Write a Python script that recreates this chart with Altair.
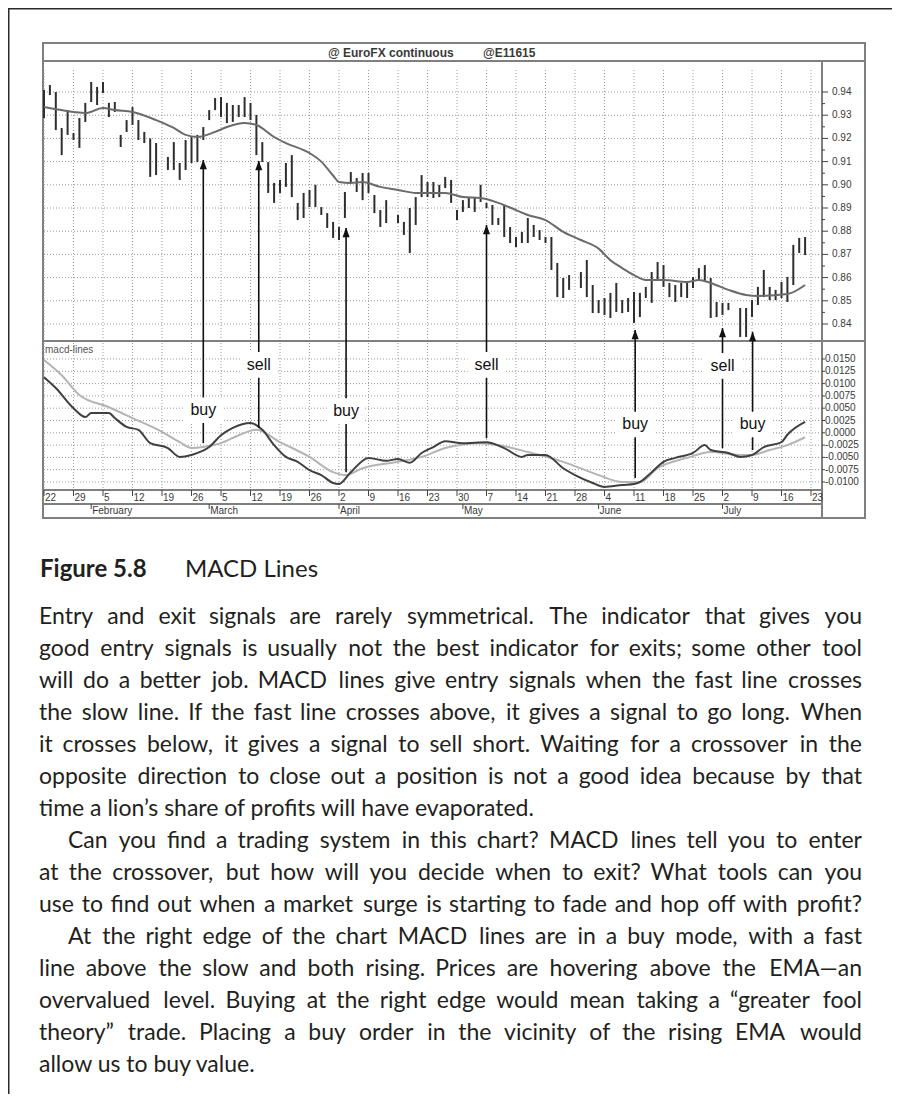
import altair as alt
import numpy as np
import pandas as pd

# ---------------- values ----------------
START = "2001-01-22"
HOLIDAYS = ["2001-02-19", "2001-04-13", "2001-05-28", "2001-07-04"]
bar_dates = [d.strftime("%Y-%m-%d") for d in pd.bdate_range("2001-01-22", "2001-07-20")
             if d.strftime("%Y-%m-%d") not in HOLIDAYS]

bar_high = [
    0.9409, 0.9430, 0.9400, 0.9245, 0.9322, 0.9223, 0.9288, 0.9353, 0.9443, 0.9422,
    0.9443, 0.9353, 0.9357, 0.9215, 0.9279, 0.9335, 0.9279, 0.9228, 0.9200, 0.9180,
    0.9120, 0.9184, 0.9094, 0.9193, 0.9206, 0.9215, 0.9249, 0.9322, 0.9374, 0.9378,
    0.9353, 0.9344, 0.9344, 0.9378, 0.9353, 0.9301, 0.9184, 0.9098, 0.9008, 0.9021,
    0.9094, 0.9128, 0.8922, 0.8965, 0.8978, 0.9000, 0.8904, 0.8878, 0.8840, 0.8818,
    0.8969, 0.9055, 0.9029, 0.9051, 0.9051, 0.8956, 0.8891, 0.8934,
    0.8870, 0.8840, 0.8900, 0.8947, 0.9042, 0.9012, 0.9012, 0.9000, 0.9034, 0.9021,
    0.8891, 0.8934, 0.8947, 0.8947, 0.9000, 0.8922, 0.8913, 0.8857, 0.8913, 0.8818,
    0.8775, 0.8797, 0.8857, 0.8827, 0.8805, 0.8775, 0.8775, 0.8663, 0.8598, 0.8611,
    0.8624, 0.8676, 0.8568, 0.8503, 0.8512, 0.8534, 0.8577, 0.8503, 0.8512, 0.8538,
    0.8534, 0.8560, 0.8624, 0.8667, 0.8654, 0.8577, 0.8568, 0.8577, 0.8581, 0.8603,
    0.8641, 0.8654, 0.8598, 0.8495, 0.8491, 0.8491,
    0.8469, 0.8469, 0.8503, 0.8560, 0.8633, 0.8560, 0.8547, 0.8581, 0.8603, 0.8741,
    0.8771, 0.8775,
]
bar_low = [
    0.9288, 0.9387, 0.9236, 0.9128, 0.9215, 0.9193, 0.9159, 0.9271, 0.9357, 0.9344,
    0.9396, 0.9292, 0.9314, 0.9163, 0.9228, 0.9258, 0.9193, 0.9180, 0.9034, 0.9042,
    0.9064, 0.9064, 0.9021, 0.9064, 0.9094, 0.9098, 0.9193, 0.9279, 0.9322, 0.9292,
    0.9266, 0.9271, 0.9292, 0.9292, 0.9279, 0.9128, 0.9098, 0.8965, 0.8922, 0.8965,
    0.8991, 0.8947, 0.8848, 0.8857, 0.8904, 0.8904, 0.8870, 0.8814, 0.8771, 0.8762,
    0.8857, 0.9008, 0.8969, 0.8934, 0.8965, 0.8878, 0.8818, 0.8835,
    0.8835, 0.8784, 0.8706, 0.8827, 0.8947, 0.8947, 0.8943, 0.8947, 0.8986, 0.8922,
    0.8848, 0.8883, 0.8900, 0.8883, 0.8926, 0.8900, 0.8827, 0.8827, 0.8775, 0.8749,
    0.8732, 0.8749, 0.8749, 0.8775, 0.8762, 0.8749, 0.8633, 0.8516, 0.8512, 0.8547,
    0.8555, 0.8516, 0.8447, 0.8447, 0.8439, 0.8426, 0.8452, 0.8447, 0.8452, 0.8404,
    0.8430, 0.8512, 0.8491, 0.8590, 0.8560, 0.8516, 0.8495, 0.8516, 0.8512, 0.8555,
    0.8590, 0.8581, 0.8426, 0.8430, 0.8439, 0.8460,
    0.8344, 0.8344, 0.8430, 0.8482, 0.8516, 0.8503, 0.8503, 0.8512, 0.8495, 0.8568,
    0.8706, 0.8697,
]

# EMA line (trading-day offset from Jan 22, value)
ema_day = [0, 5, 7, 10, 12, 15, 19, 22, 24, 26, 29, 31, 34, 36, 39, 41, 45, 47, 49, 50,
           52, 54, 57, 60, 63, 65, 68, 71, 74, 77, 80, 82, 85, 88, 91, 94, 96, 98, 100, 102,
           105, 109, 111, 113, 116, 119, 121, 126, 129]
ema_val = [0.9335, 0.9314, 0.9309, 0.9331, 0.9322, 0.9314, 0.9279, 0.9245, 0.9215, 0.9206,
           0.9228, 0.9249, 0.9266, 0.9258, 0.9206, 0.9180, 0.9137, 0.9100, 0.9040, 0.9012,
           0.9008, 0.9012, 0.8991, 0.8978, 0.8965, 0.8965, 0.8965, 0.8947, 0.8943, 0.8922,
           0.8891, 0.8870, 0.8848, 0.8797, 0.8762, 0.8725, 0.8675, 0.8641, 0.8611, 0.8590,
           0.8590, 0.8581, 0.8590, 0.8577, 0.8547, 0.8525, 0.8521, 0.8529, 0.8568]

# MACD fast line (dark)
fast_day = [0, 2, 5, 7, 8, 11, 12, 14, 16, 18, 21, 23, 25, 28, 30, 32, 35, 37, 39, 41,
            43, 45, 47, 49, 50, 52, 55, 58, 60, 62, 64, 66, 68, 71, 75, 78, 81, 82, 85, 88,
            90, 93, 95, 98, 100, 101, 103, 105, 107, 110, 112, 113, 116, 118, 120, 122, 125,
            126, 129]
fast_val = [0.0113, 0.0091, 0.0050, 0.0032, 0.0040, 0.0040, 0.0030, 0.0012, 0.0006, -0.0021,
            -0.0031, -0.0049, -0.0045, -0.0029, -0.0005, 0.0010, 0.0020, 0.0006, -0.0025, -0.0049,
            -0.0059, -0.0076, -0.0086, -0.0102, -0.0104, -0.0080, -0.0051, -0.0057, -0.0053, -0.0061,
            -0.0041, -0.0029, -0.0017, -0.0021, -0.0019, -0.0031, -0.0049, -0.0045, -0.0045, -0.0072,
            -0.0086, -0.0102, -0.0110, -0.0106, -0.0104, -0.0100, -0.0080, -0.0059, -0.0051, -0.0041,
            -0.0025, -0.0035, -0.0041, -0.0049, -0.0045, -0.0029, -0.0019, -0.0004, 0.0022]

# MACD slow line (light)
slow_day = [0, 3, 6, 11, 15, 20, 23, 25, 27, 30, 33, 36, 40, 45, 49, 51, 54, 60, 64, 68,
            74, 77, 82, 88, 94, 98, 101, 104, 109, 113, 118, 120, 123, 126, 129]
slow_val = [0.0148, 0.0117, 0.0077, 0.0052, 0.0030, 0.0002, -0.0019, -0.0031, -0.0029, -0.0021,
            -0.0005, 0.0006, -0.0019, -0.0049, -0.0080, -0.0086, -0.0072, -0.0059, -0.0049, -0.0031,
            -0.0021, -0.0025, -0.0039, -0.0059, -0.0086, -0.0100, -0.0100, -0.0072, -0.0051, -0.0039,
            -0.0045, -0.0045, -0.0035, -0.0025, -0.0009]

# signals
sig_day = [27.0, 36.4, 51.2, 75.0, 100.2, 115.0, 120.1]
sig_text = ["buy", "sell", "buy", "sell", "buy", "sell", "buy"]
sig_tip = [0.9107, 0.9103, 0.8814, 0.8827, 0.8374, 0.8383, 0.8366]
sig_end = [-0.0021, 0.0010, -0.0080, -0.0011, -0.0092, -0.0031, -0.0035]
sig_label = [0.0046, 0.0138, 0.0044, 0.0138, 0.0017, 0.0136, 0.0017]

# axes
week_day = list(range(0, 131, 5))
week_label = ["22", "29", "5", "12", "19", "26", "5", "12", "19", "26", "2", "9", "16",
              "23", "30", "7", "14", "21", "28", "4", "11", "18", "25", "2", "9", "16", "23"]
month_day = [8, 28, 50, 71, 94, 115]
month_label = ["February", "March", "April", "May", "June", "July"]
price_tick = [0.94, 0.93, 0.92, 0.91, 0.90, 0.89, 0.88, 0.87, 0.86, 0.85, 0.84]
price_label = ["0.94", "0.93", "0.92", "0.91", "0.90", "0.89", "0.88", "0.87", "0.86", "0.85", "0.84"]
price_minor = [0.935, 0.925, 0.915, 0.905, 0.895, 0.885, 0.875, 0.865, 0.855, 0.845]
macd_tick = [0.015, 0.0125, 0.01, 0.0075, 0.005, 0.0025, 0.0, -0.0025, -0.005, -0.0075, -0.01]
macd_label = ["0.0150", "0.0125", "0.0100", "0.0075", "0.0050", "0.0025", "0.0000",
              "-0.0025", "-0.0050", "-0.0075", "-0.0100"]

title_left = "@ EuroFX continuous"
title_right = "@E11615"
panel_label = "macd-lines"
caption_bold = "Figure 5.8"
caption_rest = "MACD Lines"
body_lines = [
    "Entry and exit signals are rarely symmetrical. The indicator that gives you",
    "good entry signals is usually not the best indicator for exits; some other tool",
    "will do a better job. MACD lines give entry signals when the fast line crosses",
    "the slow line. If the fast line crosses above, it gives a signal to go long. When",
    "it crosses below, it gives a signal to sell short. Waiting for a crossover in the",
    "opposite direction to close out a position is not a good idea because by that",
    "time a lion\u2019s share of profits will have evaporated.",
    "Can you find a trading system in this chart? MACD lines tell you to enter",
    "at the crossover, but how will you decide when to exit? What tools can you",
    "use to find out when a market surge is starting to fade and hop off with profit?",
    "At the right edge of the chart MACD lines are in a buy mode, with a fast",
    "line above the slow and both rising. Prices are hovering above the EMA\u2014an",
    "overvalued level. Buying at the right edge would mean taking a \u201cgreater fool",
    "theory\u201d trade. Placing a buy order in the vicinity of the rising EMA would",
    "allow us to buy value.",
]
indented = [7, 10]
ragged = [6, 14]

# ---------------- tables ----------------
bars = pd.DataFrame({"day": np.busday_count(START, bar_dates), "high": bar_high, "low": bar_low})
ema = pd.DataFrame({"day": ema_day, "v": ema_val})
fast = pd.DataFrame({"day": fast_day, "v": fast_val})
slow = pd.DataFrame({"day": slow_day, "v": slow_val})
sig = pd.DataFrame({"day": sig_day, "t": sig_text, "tip": sig_tip, "end": sig_end, "lab": sig_label})
weeks = pd.DataFrame({"day": week_day, "t": week_label})
months = pd.DataFrame({"day": month_day, "t": month_label})
pt = pd.DataFrame({"v": price_tick, "t": price_label})
pm = pd.DataFrame({"v": price_minor})
mt = pd.DataFrame({"v": macd_tick, "t": macd_label})
one = pd.DataFrame({"k": [0]})

# ---------------- justified text layout (word placement) ----------------
FS = 23
CAP_FS = 24
CAL = 1.05
EM = {
    " ": .193, ".": .20, ",": .20, ";": .22, ":": .22, "?": .41, "!": .25, "\u2019": .20,
    "\u201c": .37, "\u201d": .37, "\u2014": .80, "-": .33,
    "a": .49, "b": .55, "c": .45, "d": .55, "e": .51, "f": .31, "g": .49, "h": .55, "i": .23,
    "j": .23, "k": .49, "l": .23, "m": .82, "n": .55, "o": .55, "p": .55, "q": .55, "r": .36,
    "s": .41, "t": .34, "u": .55, "v": .50, "w": .76, "x": .48, "y": .50, "z": .44,
    "A": .68, "B": .64, "C": .66, "D": .74, "E": .55, "F": .53, "G": .72, "H": .75, "I": .27,
    "M": .89, "P": .59, "T": .57, "W": 1.0, "Y": .61,
}
LEFT, RIGHT, INDENT = 31, 854, 29


def est(word):
    return sum(EM.get(c, .55) for c in word) * FS * CAL


left_rows, right_rows = [], []
for i, line in enumerate(body_lines):
    x0 = LEFT + (INDENT if i in indented else 0)
    if i in ragged:
        left_rows.append({"i": i, "w": line, "px": x0})
        continue
    words = line.split(" ")
    ws = [est(w) for w in words]
    gap = (RIGHT - x0 - sum(ws)) / (len(words) - 1)
    x = x0
    for k, (w, wd) in enumerate(zip(words, ws)):
        if k == len(words) - 1:
            right_rows.append({"i": i, "w": w, "px": RIGHT})
        else:
            left_rows.append({"i": i, "w": w, "px": x})
        x += wd + gap
words_left = pd.DataFrame(left_rows)
words_right = pd.DataFrame(right_rows)

# ---------------- scales (plot-area pixels) ----------------
W, H = 884, 1086
XS = alt.Scale(domain=[0, 130], range=[36, 803], nice=False, zero=False)
PY = alt.Scale(domain=[0.84, 0.94], range=[316, 84], nice=False, zero=False)
MY = alt.Scale(domain=[-0.01, 0.015], range=[474, 351], nice=False, zero=False)
LY = alt.Scale(domain=[0, 14], range=[609, 1057], nice=False, zero=False)

FRAME = "#7f7f7f"
GRID = "#9a9a9a"
AXF = "Liberation Sans"
BODYF = "Lato"
INK = "#231f20"


def X(f):
    return alt.X(f, type="quantitative", scale=XS, axis=None)


def seg(x1, x2, y1, y2, color=FRAME, w=2.0):
    return alt.Chart(one).mark_rule(color=color, strokeWidth=w).encode(
        x=alt.value(x1), x2=alt.value(x2), y=alt.value(y1), y2=alt.value(y2))


layers = []
# page border
layers.append(seg(0.75, 0.75, 0, H, color="#2a2a2a", w=1.5))
layers.append(seg(0, W, 0.75, 0.75, color="#2a2a2a", w=1.5))
# chart frame
layers.append(alt.Chart(one).mark_rect(fill="white", stroke=FRAME, strokeWidth=2).encode(
    x=alt.value(35), x2=alt.value(857), y=alt.value(35), y2=alt.value(510)))

# grid
layers.append(alt.Chart(weeks).mark_rule(color=GRID, strokeWidth=1, strokeDash=[1, 2]).encode(
    x=X("day"), y=alt.value(62), y2=alt.value(482)))
layers.append(alt.Chart(pt).mark_rule(color=GRID, strokeWidth=1, strokeDash=[1, 2]).encode(
    y=alt.Y("v:Q", scale=PY, axis=None), x=alt.value(36), x2=alt.value(814)))
layers.append(alt.Chart(mt).mark_rule(color=GRID, strokeWidth=1, strokeDash=[1, 2]).encode(
    y=alt.Y("v:Q", scale=MY, axis=None), x=alt.value(36), x2=alt.value(814)))

# frame lines
layers.append(seg(35, 857, 53, 53))
layers.append(seg(35, 857, 333, 333))
layers.append(seg(814, 814, 53, 510))
layers.append(seg(35, 814, 482, 482))
layers.append(seg(35, 814, 496, 496))

# title bar
layers.append(alt.Chart(one).mark_text(font=AXF, fontSize=12, fontWeight="bold", color="#3a3a3a",
                                       align="left", baseline="middle", text=title_left).encode(
    x=alt.value(320), y=alt.value(45)))
layers.append(alt.Chart(one).mark_text(font=AXF, fontSize=12, fontWeight="bold", color="#3a3a3a",
                                       align="left", baseline="middle", text=title_right).encode(
    x=alt.value(475), y=alt.value(45)))
layers.append(alt.Chart(one).mark_text(font=AXF, fontSize=10, color="#555555",
                                       align="left", baseline="middle", text=panel_label).encode(
    x=alt.value(37), y=alt.value(342)))

# price bars
layers.append(alt.Chart(bars).mark_rule(color="#2e2e2e", strokeWidth=2).encode(
    x=X("day"), y=alt.Y("high:Q", scale=PY, axis=None), y2="low:Q"))
# EMA
layers.append(alt.Chart(ema).mark_line(color="#6a6a6a", strokeWidth=2, interpolate="monotone").encode(
    x=X("day"), y=alt.Y("v:Q", scale=PY, axis=None)))
# MACD lines
layers.append(alt.Chart(slow).mark_line(color="#b4b4b4", strokeWidth=2, interpolate="monotone").encode(
    x=X("day"), y=alt.Y("v:Q", scale=MY, axis=None)))
layers.append(alt.Chart(fast).mark_line(color="#404040", strokeWidth=2, interpolate="monotone").encode(
    x=X("day"), y=alt.Y("v:Q", scale=MY, axis=None)))

# signal arrows
layers.append(alt.Chart(sig).mark_rule(color="#111111", strokeWidth=1.6).encode(
    x=X("day"), y=alt.Y("tip:Q", scale=PY, axis=None), y2=alt.value(333)))
layers.append(alt.Chart(sig).mark_rule(color="#111111", strokeWidth=1.6).encode(
    x=X("day"), y=alt.Y("end:Q", scale=MY, axis=None), y2=alt.value(333)))
layers.append(alt.Chart(sig).mark_point(shape="M0,-1L0.75,1L-0.75,1Z", size=90, filled=True,
                                        opacity=1, color="#111111", yOffset=4.5).encode(
    x=X("day"), y=alt.Y("tip:Q", scale=PY, axis=None)))
layers.append(alt.Chart(sig).transform_calculate(
    x0="datum.day - 3.2", x1="datum.day + 3.2", y0="datum.lab - 0.0026", y1="datum.lab + 0.0026"
).mark_rect(fill="white").encode(
    x=X("x0:Q"), x2="x1:Q", y=alt.Y("y0:Q", scale=MY, axis=None), y2="y1:Q"))
layers.append(alt.Chart(sig).mark_text(font=AXF, fontSize=16, color="#111111", baseline="middle",
                                       align="center").encode(
    x=X("day"), y=alt.Y("lab:Q", scale=MY, axis=None), text="t:N"))

# right axes
layers.append(alt.Chart(pt).mark_rule(color="#444444", strokeWidth=1).encode(
    y=alt.Y("v:Q", scale=PY, axis=None), x=alt.value(814), x2=alt.value(820)))
layers.append(alt.Chart(pm).mark_rule(color="#444444", strokeWidth=1).encode(
    y=alt.Y("v:Q", scale=PY, axis=None), x=alt.value(814), x2=alt.value(817)))
layers.append(alt.Chart(pt).mark_text(font=AXF, fontSize=10, color="#3a3a3a", align="left",
                                      baseline="middle").encode(
    y=alt.Y("v:Q", scale=PY, axis=None), x=alt.value(824), text="t:N"))
layers.append(alt.Chart(mt).mark_rule(color="#444444", strokeWidth=1).encode(
    y=alt.Y("v:Q", scale=MY, axis=None), x=alt.value(814), x2=alt.value(817)))
layers.append(alt.Chart(mt).mark_text(font=AXF, fontSize=10, color="#3a3a3a", align="left",
                                      baseline="middle").encode(
    y=alt.Y("v:Q", scale=MY, axis=None), x=alt.value(817), text="t:N"))

# date axis
layers.append(alt.Chart(weeks).mark_rule(color="#444444", strokeWidth=1).encode(
    x=X("day"), y=alt.value(482), y2=alt.value(488)))
layers.append(alt.Chart(weeks).mark_text(font=AXF, fontSize=10, color="#3a3a3a", align="left",
                                         baseline="middle", dx=1).encode(
    x=X("day"), y=alt.value(490), text="t:N"))
layers.append(alt.Chart(months).mark_rule(color="#444444", strokeWidth=1).encode(
    x=X("day"), y=alt.value(496), y2=alt.value(501)))
layers.append(alt.Chart(months).mark_text(font=AXF, fontSize=10, color="#3a3a3a", align="left",
                                          baseline="middle", dx=1).encode(
    x=X("day"), y=alt.value(503), text="t:N"))

# caption and body text
layers.append(alt.Chart(one).mark_text(font=BODYF, fontSize=CAP_FS, fontWeight="bold", color=INK,
                                       align="left", baseline="middle", text=caption_bold).encode(
    x=alt.value(32), y=alt.value(562)))
layers.append(alt.Chart(one).mark_text(font=BODYF, fontSize=CAP_FS, color=INK,
                                       align="left", baseline="middle", text=caption_rest).encode(
    x=alt.value(177), y=alt.value(562)))
layers.append(alt.Chart(words_left).mark_text(font=BODYF, fontSize=FS, color=INK, align="left",
                                              baseline="middle").encode(
    x=alt.X("px:Q", scale=None), y=alt.Y("i:Q", scale=LY, axis=None), text="w:N"))
layers.append(alt.Chart(words_right).mark_text(font=BODYF, fontSize=FS, color=INK, align="right",
                                               baseline="middle").encode(
    x=alt.X("px:Q", scale=None), y=alt.Y("i:Q", scale=LY, axis=None), text="w:N"))

chart = alt.layer(*layers).resolve_scale(x="independent", y="independent").properties(
    width=W, height=H, padding=0, background="white",
    autosize=alt.AutoSizeParams(type="none"),
).configure_view(stroke=None)

chart.save("out.html", embed_options={"renderer": "svg", "actions": False})
